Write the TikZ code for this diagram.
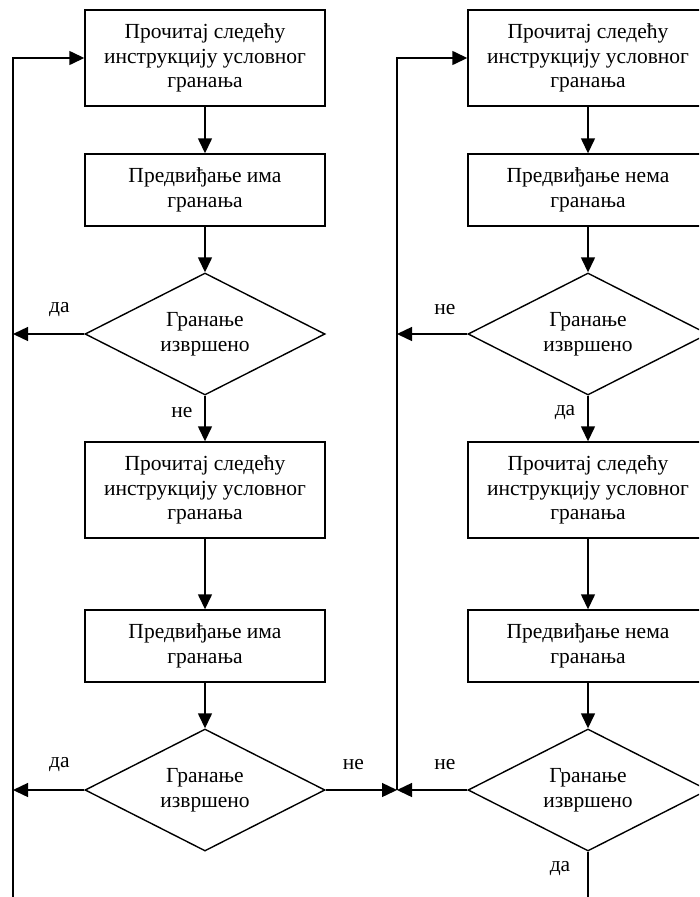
\documentclass[tikz,border=0pt]{standalone}
\usepackage{fontspec}
\setmainfont{Liberation Serif}
\usetikzlibrary{arrows.meta,shapes.geometric,positioning}
\newcommand{\txtsize}{\fontsize{21.5}{24.5}\selectfont}
\tikzstyle{block} = [draw, rectangle, line width=1.4pt, minimum width=240pt, align=center, font=\txtsize]
\tikzstyle{decision} = [draw, diamond, line width=1.4pt, minimum width=240pt, minimum height=122pt, inner sep=-8pt, align=center, font=\txtsize]
\tikzstyle{flow} = [line width=1.4pt, -{Triangle[length=15pt,width=14pt]}]
\tikzstyle{wire} = [line width=1.4pt]
\tikzstyle{lbl} = [font=\txtsize, inner sep=0pt]
\begin{document}
\begin{tikzpicture}
		\useasboundingbox (0,0) rectangle (699pt,-897pt);
		\clip (0,0) rectangle (699pt,-897pt);								% rechter Rand abgeschnitten
		% linke Spalte
		\node[block, minimum height=96pt] (read1) at (205pt,-58pt) {Прочитај следећу\\инструкцију условног\\гранања};
		\node[block, minimum height=72pt, below of=read1, node distance=132pt] (pred1) {Предвиђање има\\гранања};
		\node[decision, below of=pred1, node distance=144pt] (dec1) {Гранање\\извршено};
		\node[block, minimum height=96pt, below of=dec1, node distance=156pt] (read2) {Прочитај следећу\\инструкцију условног\\гранања};
		\node[block, minimum height=72pt, below of=read2, node distance=156pt] (pred2) {Предвиђање има\\гранања};
		\node[decision, below of=pred2, node distance=144pt] (dec2) {Гранање\\извршено};
		% rechte Spalte
		\node[block, minimum height=96pt] (read1-r) at (588pt,-58pt) {Прочитај следећу\\инструкцију условног\\гранања};
		\node[block, minimum height=72pt, below of=read1-r, node distance=132pt] (pred1-r) {Предвиђање нема\\гранања};
		\node[decision, below of=pred1-r, node distance=144pt] (dec1-r) {Гранање\\извршено};
		\node[block, minimum height=96pt, below of=dec1-r, node distance=156pt] (read2-r) {Прочитај следећу\\инструкцију условног\\гранања};
		\node[block, minimum height=72pt, below of=read2-r, node distance=156pt] (pred2-r) {Предвиђање нема\\гранања};
		\node[decision, below of=pred2-r, node distance=144pt] (dec2-r) {Гранање\\извршено};
		% Rueckfuehrungen
		\coordinate (bus-l) at (13pt,-897pt);								% linke Leitung unten
		\coordinate (bus-r) at (397pt,-790pt);								% Sammelpunkt rechts
		\coordinate (end-r) at (588pt,-897pt);								% Ausgang unten rechts
		
		% Pfeile links
		\draw[flow] (read1) -- (pred1);
		\draw[flow] (pred1) -- (dec1);
		\draw[flow] (dec1) -- node[lbl, pos=0.36, xshift=-23pt] {не} (read2);
		\draw[flow] (read2) -- (pred2);
		\draw[flow] (pred2) -- (dec2);
		\draw[flow] (dec1.west) -- node[lbl, pos=0.35, yshift=24pt] {да} (dec1.west -| bus-l);
		\draw[flow] (dec2.west) -- node[lbl, pos=0.35, yshift=25pt] {да} (dec2.west -| bus-l);
		\draw[flow] (dec2.east) -- node[lbl, pos=0.39, yshift=25pt] {не} (bus-r);
		\draw[flow] (bus-l) |- (read1.west);
		
		% Pfeile rechts
		\draw[flow] (read1-r) -- (pred1-r);
		\draw[flow] (pred1-r) -- (dec1-r);
		\draw[flow] (dec1-r) -- node[lbl, pos=0.36, xshift=-23pt] {да} (read2-r);
		\draw[flow] (read2-r) -- (pred2-r);
		\draw[flow] (pred2-r) -- (dec2-r);
		\draw[flow] (dec1-r.west) -- node[lbl, pos=0.32, yshift=24pt] {не} (dec1-r.west -| bus-r);
		\draw[flow] (dec2-r.west) -- node[lbl, pos=0.32, yshift=25pt] {не} (bus-r);
		\draw[flow] (bus-r) |- (read1-r.west);
		\draw[wire] (dec2-r.south) -- node[lbl, pos=0.38, xshift=-28pt] {да} (end-r);
\end{tikzpicture}
\end{document}
